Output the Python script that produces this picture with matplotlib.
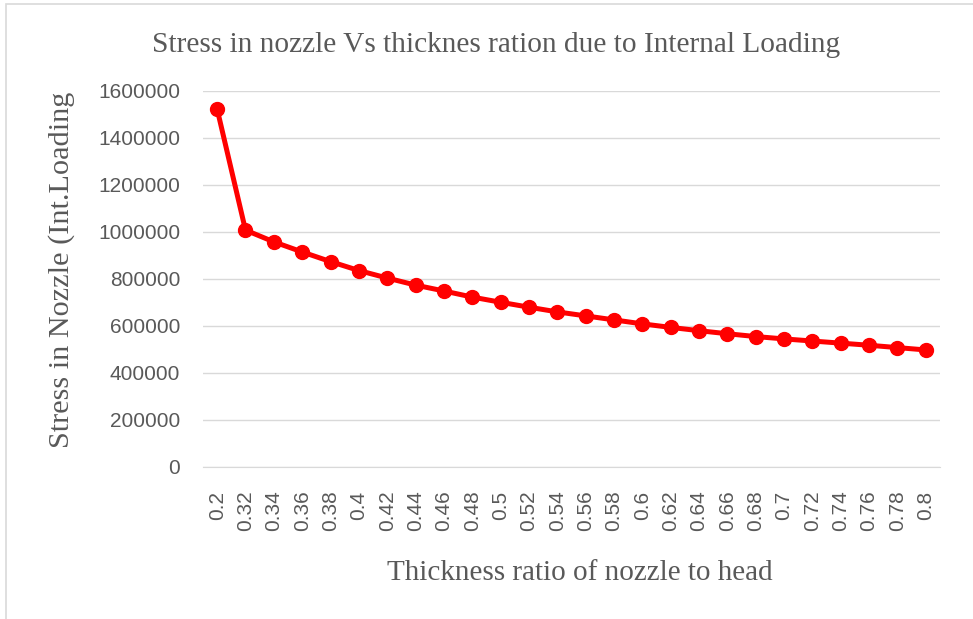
import numpy as np
import matplotlib.pyplot as plt
from matplotlib.patches import Rectangle

ratios = ["0.2", "0.32", "0.34", "0.36", "0.38", "0.4", "0.42", "0.44", "0.46",
          "0.48", "0.5", "0.52", "0.54", "0.56", "0.58", "0.6", "0.62", "0.64",
          "0.66", "0.68", "0.7", "0.72", "0.74", "0.76", "0.78", "0.8"]
stress = [1523000, 1008000, 958000, 915000, 874000, 836000, 804000, 774000,
          749000, 723000, 701000, 680000, 660000, 643000, 626000, 609000,
          594000, 580000, 567000, 555000, 545000, 536000, 527000, 518000,
          508000, 498000]
yticks = [0, 200000, 400000, 600000, 800000, 1000000, 1200000, 1400000, 1600000]

GRAY = "#595959"
SERIF = ["Liberation Serif", "DejaVu Serif"]
SANS = ["Liberation Sans", "DejaVu Sans"]

fig = plt.figure(figsize=(9.73, 6.19), dpi=100, facecolor="white")
fig.patches.append(Rectangle((0.006, -0.1), 1.1, 1.093, transform=fig.transFigure,
                             fill=False, edgecolor="#d9d9d9", linewidth=1.2))

ax = fig.add_axes([0.2086, 0.2456, 0.7574, 0.6074])
x = np.arange(len(ratios))
ax.plot(x, stress, color="#ff0000", linewidth=3.6, marker="o", markersize=10,
        solid_capstyle="round", zorder=3)

ax.set_xlim(-0.5, len(ratios) - 0.5)
ax.set_ylim(0, 1600000)
ax.set_yticks(yticks)
ax.set_yticklabels([str(v) for v in yticks], fontfamily=SANS, fontsize=15, color=GRAY)
ax.set_xticks(x)
ax.set_xticklabels(ratios, rotation=90, fontfamily=SANS, fontsize=15, color=GRAY)
ax.tick_params(length=0)
ax.tick_params(axis="y", pad=16.5)
ax.tick_params(axis="x", pad=17)
ax.grid(axis="y", color="#d9d9d9", linewidth=1)
ax.set_axisbelow(True)
for s in ["top", "right", "left"]:
    ax.spines[s].set_visible(False)
ax.spines["bottom"].set_color("#d9d9d9")

fig.text(0.51, 0.928, "Stress in nozzle Vs thicknes ration due to Internal Loading",
         ha="center", va="center", fontfamily=SERIF, fontsize=21.2, color=GRAY)
fig.text(0.596, 0.075, "Thickness ratio of nozzle to head",
         ha="center", va="center", fontfamily=SERIF, fontsize=21, color=GRAY)
fig.text(0.063, 0.564, "Stress in Nozzle (Int.Loading", rotation=90,
         ha="center", va="center", fontfamily=SERIF, fontsize=21.8, color=GRAY)

fig.savefig("out.png", dpi=100, facecolor="white")
